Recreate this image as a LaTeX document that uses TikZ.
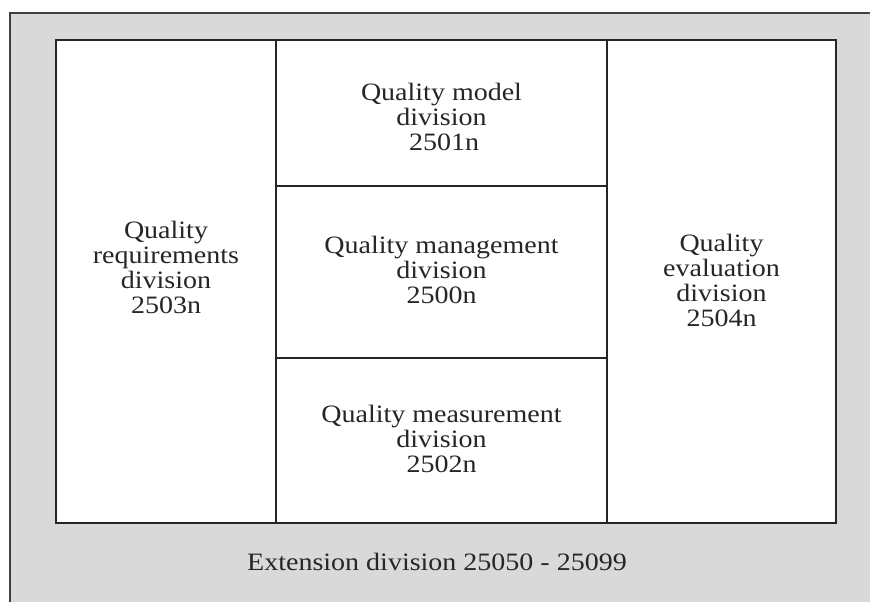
\documentclass[tikz,border=0pt]{standalone}
\usepackage{fontspec}
\setmainfont{Liberation Serif}[FakeStretch=1.12]
\begin{document}
\begin{tikzpicture}[x=1pt,y=-1pt,
  box/.style={draw=black!85, line width=1.3pt, fill=white, rectangle, inner sep=0pt},
  lbl/.style={align=center, font=\fontsize{25}{25}\selectfont, text=black!85, inner sep=0pt}]
\useasboundingbox (0,0) rectangle (870,602);
\path[draw=black!75, line width=1.5pt, fill=black!15] (10,13) rectangle (890,620);
\node[box, minimum width=220pt, minimum height=483pt] (req) at (166,281.5) {};
\node[box, minimum width=331pt, minimum height=146pt] (model) at (441.5,113) {};
\node[box, minimum width=331pt, minimum height=172pt] (mgmt) at (441.5,272) {};
\node[box, minimum width=331pt, minimum height=165pt] (meas) at (441.5,440.5) {};
\node[box, minimum width=229pt, minimum height=483pt] (eval) at (721.5,281.5) {};
\node[lbl] (reqt) at ([yshift=14pt]req.center) {Quality\\requirements\\division\\2503n};
\node[lbl] (modelt) at ([yshift=-4pt]model.center) {Quality model\\division\\\hspace*{5pt}2501n};
\node[lbl] (mgmtt) at ([yshift=2pt]mgmt.center) {Quality management\\division\\2500n};
\node[lbl] (meast) at ([yshift=2pt]meas.center) {Quality measurement\\division\\2502n};
\node[lbl] (evalt) at ([yshift=1pt]eval.center) {Quality\\evaluation\\division\\2504n};
\node[lbl] (ext) at (437,562) {Extension division 25050 - 25099};
\end{tikzpicture}
\end{document}
